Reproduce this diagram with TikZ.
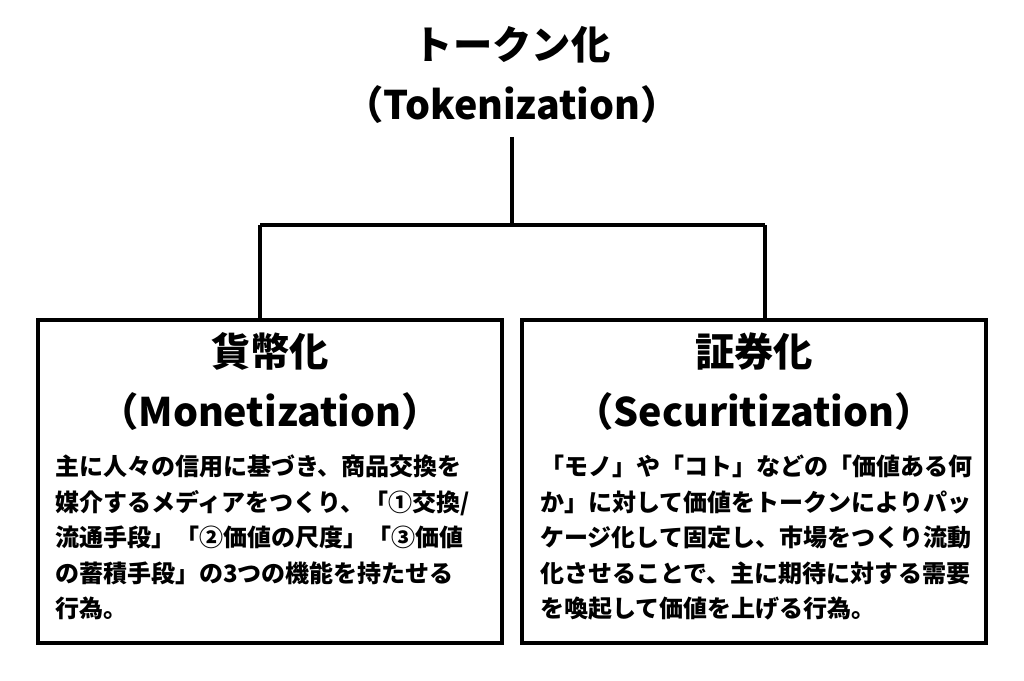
\documentclass[tikz,border=0pt]{standalone}
\usepackage{fontspec}
\setmainfont{Noto Sans CJK JP}
\begin{document}
\begin{tikzpicture}[x=0.75pt, y=-0.75pt,
    link/.style={line width=2.3pt},
    card/.style={draw, line width=2.6pt, minimum width=464*0.75pt, minimum height=323*0.75pt, inner sep=0pt},
    head/.style={font=\bfseries\fontsize{29.5}{45}\selectfont, align=center, inner sep=0pt},
    body/.style={font=\bfseries\fontsize{18}{26.6}\selectfont, align=left, anchor=north west, inner sep=0pt}]
    \useasboundingbox (0,0) rectangle (1024,681);

    \node[head] (token) at (512,75) {トークン化\\（Tokenization）};
    \node[card] (money) at (270,481.5) {};
    \node[card] (secur) at (754,481.5) {};

    \coordinate (top) at (512,137);
    \coordinate (mid) at (512,225);
    \coordinate (left) at (260,225);
    \coordinate (right) at (765,225);
    \draw[link] (top) -- (mid);
    \draw[link] (left) -- (right);
    \draw[link] (left) -- (left |- money.north);
    \draw[link] (right) -- (right |- secur.north);

    \node[head] (moneyhead) at (270,382) {貨幣化\\（Monetization）};
    \node[head] (securhead) at (754,382) {証券化\\（Securitization）};

    \node[body] (moneytext) at (55,455) {主に人々の信用に基づき、商品交換を\\媒介するメディアをつくり、「①交換/\\流通手段」「②価値の尺度」「③価値\\の蓄積手段」の3つの機能を持たせる\\行為。};
    \node[body] (securtext) at (540,455) {「モノ」や「コト」などの「価値ある何\\か」に対して価値をトークンによりパッ\\ケージ化して固定し、市場をつくり流動\\化させることで、主に期待に対する需要\\を喚起して価値を上げる行為。};
\end{tikzpicture}
\end{document}
